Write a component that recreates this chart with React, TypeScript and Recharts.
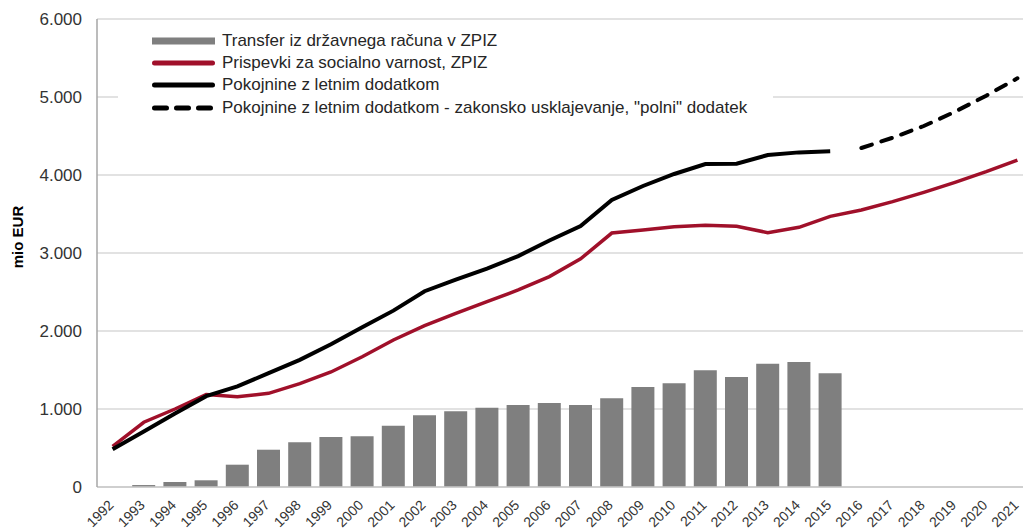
import React from "react";
import {
  ComposedChart,
  Bar,
  Line,
  XAxis,
  YAxis,
  CartesianGrid,
  Legend,
} from "recharts";

// Values, mio EUR.
const years = [
  "1992", "1993", "1994", "1995", "1996", "1997", "1998", "1999", "2000", "2001",
  "2002", "2003", "2004", "2005", "2006", "2007", "2008", "2009", "2010", "2011",
  "2012", "2013", "2014", "2015", "2016", "2017", "2018", "2019", "2020", "2021",
];

const transfer = [
  null, 25, 64, 86, 286, 478, 573, 641, 650, 786,
  919, 970, 1017, 1051, 1077, 1051, 1137, 1282, 1329, 1496,
  1410, 1581, 1603, 1458, null, null, null, null, null, null,
];

const prispevki = [
  522, 830, 1000, 1185, 1156, 1201, 1325, 1475, 1670, 1885,
  2068, 2226, 2376, 2526, 2697, 2925, 3256, 3295, 3337, 3355,
  3342, 3261, 3329, 3470, 3551, 3658, 3778, 3906, 4042, 4192,
];

const pokojnine = [
  483, 712, 942, 1165, 1290, 1460, 1630, 1830, 2047, 2261,
  2510, 2660, 2800, 2960, 3160, 3345, 3679, 3859, 4013, 4141,
  4145, 4256, 4290, 4304, null, null, null, null, null, null,
];

const pokojninePolni = [
  null, null, null, null, null, null, null, null, null, null,
  null, null, null, null, null, null, null, null, null, null,
  null, null, null, null, 4346, 4478, 4628, 4812, 5017, 5240,
];

const yTicks = [0, 1000, 2000, 3000, 4000, 5000, 6000];

const legendItems = [
  { label: "Transfer iz državnega računa v ZPIZ", kind: "bar", color: "#7f7f7f" },
  { label: "Prispevki za socialno varnost, ZPIZ", kind: "line", color: "#a0102a" },
  { label: "Pokojnine z letnim dodatkom", kind: "line", color: "#000" },
  { label: 'Pokojnine z letnim dodatkom - zakonsko usklajevanje, "polni" dodatek', kind: "dash", color: "#000" },
];

const data = years.map((year, i) => ({
  year,
  transfer: transfer[i],
  prispevki: prispevki[i],
  pokojnine: pokojnine[i],
  pokojninePolni: pokojninePolni[i],
}));

const FONT = "'Liberation Sans', Arial, sans-serif";
const TEXT = "#333";

const fmt = (v: number) =>
  v === 0 ? "0" : `${Math.floor(v / 1000)}.${String(v % 1000).padStart(3, "0")}`;

function YearTick({ x, y, payload }: any) {
  return (
    <g transform={`translate(${x + 2},${y + 19})`}>
      <text transform="rotate(-45)" textAnchor="end" fontSize={14} fill={TEXT} fontFamily={FONT}>
        {payload.value}
      </text>
    </g>
  );
}

function YLabel(props: any) {
  const vb = props.viewBox || { x: 0, y: 19, width: 97, height: 468 };
  const x = vb.x + 23;
  const y = vb.y + vb.height / 2 - 16;
  return (
    <text
      x={x}
      y={y}
      transform={`rotate(-90 ${x} ${y})`}
      textAnchor="middle"
      fontSize={15}
      fontWeight="bold"
      fill="#000"
      fontFamily={FONT}
    >
      mio EUR
    </text>
  );
}

function LegendBox() {
  return (
    <div style={{ background: "#fff", fontFamily: FONT }}>
      {legendItems.map((it) => (
        <div key={it.label} style={{ display: "flex", alignItems: "center", height: 22.2 }}>
          <svg width={63} height={10} style={{ marginLeft: 34, marginRight: 7, flex: "none" }}>
            {it.kind === "bar" ? (
              <rect x={0} y={1.5} width={63} height={7} fill={it.color} />
            ) : (
              <line
                x1={2.5}
                x2={60.5}
                y1={5}
                y2={5}
                stroke={it.color}
                strokeWidth={5}
                strokeLinecap="round"
                strokeDasharray={it.kind === "dash" ? "12 10" : undefined}
              />
            )}
          </svg>
          <span style={{ fontSize: 17, color: "#262626", whiteSpace: "nowrap" }}>{it.label}</span>
        </div>
      ))}
    </div>
  );
}

export default function App() {
  return (
    <div
      style={{
        position: "fixed",
        left: 0,
        top: 0,
        width: 1023,
        height: 531,
        overflow: "hidden",
        background: "#fff",
      }}
    >
      <ComposedChart
        width={1040}
        height={531}
        data={data}
        margin={{ top: 19, right: 7, left: 0, bottom: 0 }}
        style={{ fontFamily: FONT }}
      >
        <CartesianGrid horizontal vertical={false} stroke="#d9d9d9" strokeWidth={1.5} />
        <XAxis
          dataKey="year"
          interval={0}
          height={44}
          tickLine={false}
          tickSize={0}
          tickMargin={0}
          axisLine={{ stroke: "#c8c8c8", strokeWidth: 1.5 }}
          tick={<YearTick />}
        />
        <YAxis
          width={97}
          domain={[0, 6000]}
          ticks={yTicks}
          tickFormatter={fmt}
          tickLine={false}
          tickSize={0}
          tickMargin={15}
          axisLine={{ stroke: "#a6a6a6", strokeWidth: 1.5 }}
          tick={{ fontSize: 17, fill: TEXT, fontFamily: FONT }}
          label={{ content: YLabel }}
        />
        <Legend
          layout="vertical"
          align="center"
          verticalAlign="middle"
          content={<LegendBox />}
          wrapperStyle={{ left: 118, top: 30, width: 655, height: 90 }}
        />
        <Bar dataKey="transfer" barSize={23} fill="#7f7f7f" isAnimationActive={false} />
        <Line
          type="linear"
          dataKey="prispevki"
          stroke="#a0102a"
          strokeWidth={3.5}
          dot={false}
          activeDot={false}
          isAnimationActive={false}
        />
        <Line
          type="linear"
          dataKey="pokojnine"
          stroke="#000"
          strokeWidth={4}
          dot={false}
          activeDot={false}
          isAnimationActive={false}
        />
        <Line
          type="linear"
          dataKey="pokojninePolni"
          stroke="#000"
          strokeWidth={4}
          strokeDasharray="11 10"
          strokeLinecap="round"
          dot={false}
          activeDot={false}
          isAnimationActive={false}
        />
      </ComposedChart>
    </div>
  );
}
